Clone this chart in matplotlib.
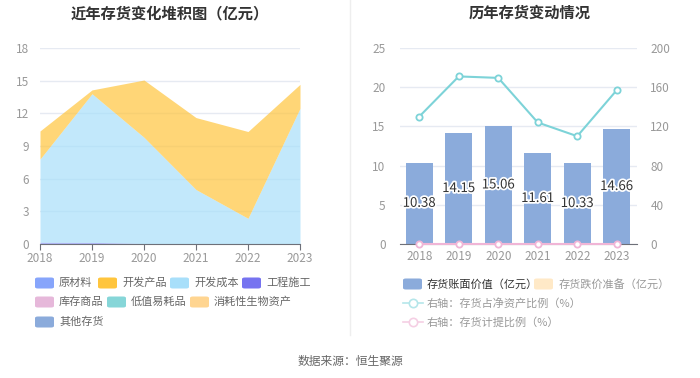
import matplotlib
matplotlib.use("Agg")
import matplotlib.pyplot as plt
import matplotlib.patheffects as pe
from matplotlib.patches import FancyBboxPatch
from matplotlib.lines import Line2D
import numpy as np

plt.rcParams['font.family'] = ['Noto Sans CJK SC', 'DejaVu Sans']

years = ['2018', '2019', '2020', '2021', '2022', '2023']

# Left chart: stacked inventory components (亿元)
raw_material = [0.10, 0.10, 0.02, 0.0, 0.0, 0.0]          # 原材料
construction = [0.06, 0.05, 0.02, 0.0, 0.0, 0.0]          # 工程施工
dev_cost = [7.64, 13.65, 9.76, 5.0, 2.36, 12.46]          # 开发成本
dev_product = [2.58, 0.35, 5.26, 6.61, 7.97, 2.20]        # 开发产品

# Right chart
book_value = [10.38, 14.15, 15.06, 11.61, 10.33, 14.66]   # 存货账面价值（亿元）
net_asset_ratio = [130, 171, 169.5, 124, 110, 157]        # 存货占净资产比例（%）
provision_ratio = [0, 0, 0, 0, 0, 0]                      # 存货计提比例（%）

left_legend = ['原材料', '开发产品', '开发成本', '工程施工', '库存商品', '低值易耗品', '消耗性生物资产', '其他存货']
left_colors = ['#87A5FB', '#FFC53D', '#A8DFFA', '#7673F0', '#E6B8DA', '#86D6D8', '#FFD591', '#8BABDB']

W, H = 700, 378
fig = plt.figure(figsize=(7, 3.78), dpi=100)

def ax_rect(x0, x1, ytop, ybot):
    return [x0 / W, 1 - ybot / H, (x1 - x0) / W, (ybot - ytop) / H]

tick_color = '#999999'
grid_color = '#E6EAF2'

# ---------- Left chart ----------
ax1 = fig.add_axes(ax_rect(40, 300, 48, 244))
x = np.arange(len(years))
layers = [(raw_material, left_colors[0]), (construction, left_colors[3]),
          (dev_cost, left_colors[2]), (dev_product, left_colors[1])]
base = np.zeros(len(years))
for vals, col in layers:
    top = base + np.array(vals)
    ax1.fill_between(x, base, top, color=col, alpha=0.7, linewidth=0)
    base = top
ax1.set_xlim(0, len(years) - 1)
ax1.set_ylim(0, 18)
ax1.set_yticks(range(0, 19, 3))
ax1.set_xticks(x)
ax1.set_xticklabels(years)
ax1.grid(axis='y', color=grid_color, linewidth=1)
ax1.set_axisbelow(True)
for s in ['top', 'right', 'left']:
    ax1.spines[s].set_visible(False)
ax1.spines['bottom'].set_color('#6E7079')
ax1.tick_params(axis='y', length=0, labelsize=8.5, labelcolor=tick_color, pad=8)
ax1.tick_params(axis='x', length=4, color='#6E7079', labelsize=8.5, labelcolor=tick_color, pad=2)

fig.text(170 / W, 1 - 13 / H, '近年存货变化堆积图（亿元）', ha='center', va='center',
         fontsize=11, fontweight='bold', color='#333333')

# Left legend (flow layout)
def swatch(xp, yp, col, w=19, h=11):
    p = FancyBboxPatch(((xp) / W, 1 - (yp + h / 2) / H), w / W, h / H,
                       boxstyle='round,pad=0,rounding_size=0.004',
                       transform=fig.transFigure, facecolor=col, edgecolor='none')
    fig.patches.append(p)

left_pos = [(35, 283), (98, 283), (170, 283), (242, 283),
            (35, 302), (107, 302), (190, 302),
            (35, 322)]
for (xp, yp), lab, col in zip(left_pos, left_legend, left_colors):
    swatch(xp, yp, col)
    fig.text((xp + 24) / W, 1 - yp / H, lab, ha='left', va='center', fontsize=8, color='#666666')

# Separator
fig.add_artist(Line2D([350 / W, 350 / W], [1 - 335 / H, 1.0], color='#EEEEEE', linewidth=1,
                      transform=fig.transFigure))

# ---------- Right chart ----------
ax2 = fig.add_axes(ax_rect(399.5, 636.5, 48, 244))
bars = ax2.bar(x, book_value, width=0.68, color='#8BABDB', zorder=2)
ax2.set_xlim(-0.5, len(years) - 0.5)
ax2.set_ylim(0, 25)
ax2.set_yticks(range(0, 26, 5))
ax2.set_xticks(x)
ax2.set_xticklabels(years)
ax2.grid(axis='y', color=grid_color, linewidth=1)
ax2.set_axisbelow(True)
for s in ['top', 'right', 'left']:
    ax2.spines[s].set_visible(False)
ax2.spines['bottom'].set_color('#6E7079')
ax2.tick_params(axis='y', length=0, labelsize=8.5, labelcolor=tick_color, pad=10)
ax2.tick_params(axis='x', length=0, labelsize=8.5, labelcolor=tick_color, pad=4)
for xi, v in zip(x, book_value):
    ax2.text(xi, v / 2, f'{v:.2f}', ha='center', va='center', fontsize=9.5, color='#333333',
             zorder=5, path_effects=[pe.withStroke(linewidth=2.5, foreground='white')])

ax3 = ax2.twinx()
ax3.set_ylim(0, 200)
ax3.set_yticks(range(0, 201, 40))
for s in ['top', 'right', 'left', 'bottom']:
    ax3.spines[s].set_visible(False)
ax3.tick_params(axis='y', length=0, labelsize=8.5, labelcolor=tick_color, pad=10)
ax3.plot(x, net_asset_ratio, color='#7DD3D8', linewidth=1.5, marker='o', markersize=4.5,
         markerfacecolor='white', markeredgecolor='#7DD3D8', markeredgewidth=1.3, zorder=4)
ax3.plot(x, provision_ratio, color='#F0B5D6', linewidth=1.5, marker='o', markersize=4.5,
         markerfacecolor='white', markeredgecolor='#F0B5D6', markeredgewidth=1.3, zorder=4,
         clip_on=False)

fig.text(530 / W, 1 - 13 / H, '历年存货变动情况', ha='center', va='center',
         fontsize=11, fontweight='bold', color='#333333')

# Right legend
swatch(403, 284, '#8BABDB')
fig.text(427 / W, 1 - 284 / H, '存货账面价值（亿元）', ha='left', va='center', fontsize=8, color='#333333')
swatch(534, 284, '#FFE9C7')
fig.text(559 / W, 1 - 284 / H, '存货跌价准备（亿元）', ha='left', va='center', fontsize=8, color='#999999')

def line_handle(xp, yp, col):
    fig.add_artist(Line2D([xp / W, (xp + 20) / W], [1 - yp / H, 1 - yp / H], color=col,
                          linewidth=1.2, transform=fig.transFigure))
    fig.add_artist(Line2D([(xp + 10) / W], [1 - yp / H], marker='o', markersize=6,
                          markerfacecolor='white', markeredgecolor=col, markeredgewidth=1.2,
                          transform=fig.transFigure))

line_handle(403, 303, '#B5E6EA')
fig.text(427 / W, 1 - 303 / H, '右轴：存货占净资产比例（%）', ha='left', va='center', fontsize=8, color='#999999')
line_handle(403, 322, '#F5CFE4')
fig.text(427 / W, 1 - 322 / H, '右轴：存货计提比例（%）', ha='left', va='center', fontsize=8, color='#999999')

fig.text(350 / W, 1 - 361 / H, '数据来源：恒生聚源', ha='center', va='center', fontsize=8.5, color='#666666')

fig.savefig('out.png', dpi=100, facecolor='white')
